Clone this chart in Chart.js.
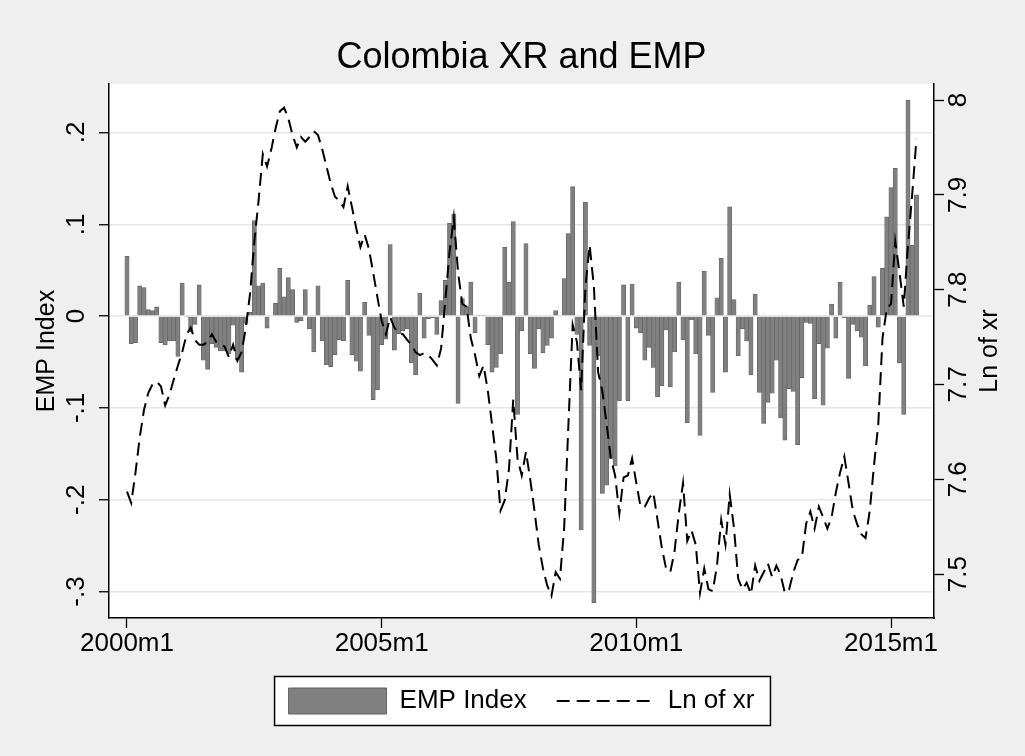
<!DOCTYPE html>
<html>
<head>
<meta charset="utf-8">
<title>Colombia XR and EMP</title>
<script src="https://cdn.jsdelivr.net/npm/chart.js@4.4.1/dist/chart.umd.min.js"></script>
<style>
  html, body { margin: 0; padding: 0; background: #efefef; }
  #wrap { width: 1025px; height: 756px; }
</style>
</head>
<body>
<div id="wrap"><canvas id="chart" width="1025" height="756"></canvas></div>
<script>
// monthly series, 2000m1 .. 2015m7
const startYear = 2000;
const empIndex = [
  0.065, -0.030, -0.029, 0.033, 0.031, 0.007, 0.006, 0.010, -0.029, -0.031, -0.027, -0.027,
  -0.044, 0.036, -0.001, -0.017, -0.009, 0.034, -0.048, -0.058, -0.030, -0.034, -0.038, -0.038,
  -0.041, -0.010, -0.048, -0.061, -0.008, 0.004, 0.104, 0.033, 0.036, -0.013, 0.000, 0.014,
  0.052, 0.021, 0.042, 0.029, -0.007, -0.005, 0.029, -0.014, -0.039, 0.033, -0.027, -0.053,
  -0.055, -0.042, -0.026, -0.027, 0.039, -0.042, -0.049, -0.060, 0.015, -0.021, -0.091, -0.080,
  -0.031, -0.025, 0.078, -0.037, -0.019, -0.016, -0.014, -0.051, -0.064, 0.025, -0.024, -0.003,
  -0.002, -0.020, 0.017, 0.039, 0.101, 0.111, -0.095, 0.019, 0.010, 0.037, -0.018, 0.001,
  0.001, -0.031, -0.061, -0.056, -0.041, 0.075, 0.037, 0.103, -0.107, -0.016, 0.079, -0.041,
  -0.057, -0.014, -0.040, -0.032, -0.024, 0.006, 0.000, 0.041, 0.090, 0.141, -0.020, -0.233,
  0.124, -0.032, -0.312, -0.043, -0.193, -0.184, -0.155, -0.163, -0.092, 0.034, -0.092, 0.035,
  -0.013, -0.018, -0.048, -0.034, -0.056, -0.088, -0.076, -0.015, -0.077, -0.039, 0.037, -0.026,
  -0.116, -0.004, -0.041, -0.130, 0.049, -0.021, -0.083, 0.020, 0.063, -0.061, 0.119, 0.018,
  -0.043, -0.014, -0.027, -0.064, 0.024, -0.083, -0.117, -0.094, -0.084, -0.048, -0.111, -0.135,
  -0.079, -0.082, -0.140, -0.067, -0.007, -0.008, -0.090, -0.030, -0.097, -0.035, 0.013, -0.024,
  0.037, -0.002, -0.068, -0.009, -0.016, -0.023, -0.054, 0.012, 0.043, -0.012, 0.052, 0.108,
  0.140, 0.161, -0.051, -0.107, 0.235, 0.077, 0.132
];
const lnXr = [
  7.587, 7.575, 7.607, 7.644, 7.673, 7.691, 7.700, 7.703, 7.698, 7.678, 7.689, 7.705,
  7.720, 7.734, 7.752, 7.760, 7.747, 7.742, 7.742, 7.745, 7.753, 7.745, 7.742, 7.740,
  7.729, 7.742, 7.725, 7.734, 7.760, 7.796, 7.851, 7.894, 7.943, 7.930, 7.948, 7.970,
  7.988, 7.992, 7.981, 7.963, 7.950, 7.961, 7.956, 7.961, 7.967, 7.963, 7.948, 7.930,
  7.912, 7.898, 7.894, 7.887, 7.909, 7.887, 7.865, 7.845, 7.858, 7.843, 7.818, 7.792,
  7.767, 7.753, 7.771, 7.760, 7.754, 7.753, 7.747, 7.742, 7.734, 7.731, 7.733, 7.731,
  7.726, 7.720, 7.738, 7.789, 7.840, 7.876, 7.818, 7.785, 7.782, 7.749, 7.731, 7.709,
  7.720, 7.694, 7.658, 7.622, 7.567, 7.578, 7.611, 7.684, 7.622, 7.604, 7.629, 7.600,
  7.567, 7.531, 7.506, 7.488, 7.477, 7.502, 7.495, 7.549, 7.658, 7.763, 7.745, 7.694,
  7.803, 7.847, 7.803, 7.713, 7.693, 7.658, 7.622, 7.604, 7.564, 7.602, 7.604, 7.622,
  7.596, 7.571, 7.571, 7.580, 7.586, 7.557, 7.528, 7.506, 7.502, 7.524, 7.564, 7.596,
  7.535, 7.546, 7.531, 7.480, 7.506, 7.484, 7.482, 7.509, 7.557, 7.531, 7.584, 7.549,
  7.495, 7.484, 7.491, 7.479, 7.509, 7.493, 7.502, 7.511, 7.497, 7.509, 7.499, 7.480,
  7.484, 7.502, 7.515, 7.517, 7.553, 7.566, 7.548, 7.571, 7.560, 7.548, 7.560, 7.586,
  7.607, 7.624, 7.596, 7.567, 7.553, 7.542, 7.538, 7.567, 7.615, 7.658, 7.749, 7.780,
  7.785, 7.851, 7.818, 7.782, 7.847, 7.901, 7.959
];
const xTickMonths = [0, 60, 120, 180];
const leftTicks = [0.2, 0.1, 0, -0.1, -0.2, -0.3];
const rightTicks = [8, 7.9, 7.8, 7.7, 7.6, 7.5];

const FONT = '"Liberation Sans", Arial, Helvetica, sans-serif';
const BAR_FILL = "#808080";
const BAR_EDGE = "#626262";
const DASH = [13, 7];
const rightTitle = "Ln of xr";

function monthLabel(i) {
  return startYear + Math.floor(i / 12) + "m" + ((i % 12) + 1);
}

// stata style: .2  -.1  0
function shortNum(v) {
  if (v === 0) return "0";
  return String(Math.round(v * 10) / 10).replace(/^(-?)0\./, "$1.");
}

const frame = {
  id: "frame",
  beforeDraw(chart) {
    const { ctx, chartArea: a, width, height } = chart;
    ctx.save();
    ctx.fillStyle = "#efefef";
    ctx.fillRect(0, 0, width, height);
    ctx.fillStyle = "#ffffff";
    ctx.fillRect(a.left, a.top, a.right - a.left, a.bottom - a.top);
    const boxes = chart.legend && chart.legend.legendHitBoxes;
    if (boxes && boxes.length) {
      const l = Math.min(...boxes.map((b) => b.left)) - 14;
      const r = Math.max(...boxes.map((b) => b.left + b.width)) + 16;
      const cy = boxes[0].top + boxes[0].height / 2;
      ctx.fillRect(l, cy - 24.5, r - l, 49);
      ctx.strokeStyle = "#000";
      ctx.lineWidth = 1.5;
      ctx.strokeRect(l, cy - 24.5, r - l, 49);
    }
    ctx.restore();
  },
  afterDraw(chart) {
    // right axis title reads bottom-to-top like the left one
    const { ctx, chartArea: a } = chart;
    ctx.save();
    ctx.translate(a.right + 56, (a.top + a.bottom) / 2);
    ctx.rotate(-Math.PI / 2);
    ctx.font = "25px " + FONT;
    ctx.fillStyle = "#000";
    ctx.textAlign = "center";
    ctx.textBaseline = "middle";
    ctx.fillText(rightTitle, 0, 0);
    ctx.restore();
  },
};

const tickFont = { family: FONT, size: 26 };

new Chart(document.getElementById("chart"), {
  type: "bar",
  data: {
    datasets: [
      {
        label: "EMP Index",
        data: empIndex.map((v, i) => ({ x: i, y: v })),
        backgroundColor: BAR_FILL,
        borderColor: BAR_EDGE,
        borderWidth: 0.7,
        barPercentage: 1,
        categoryPercentage: 1,
        yAxisID: "y",
        order: 1,
      },
      {
        type: "line",
        label: "Ln of xr",
        data: lnXr.map((v, i) => ({ x: i, y: v })),
        borderColor: "#000",
        borderWidth: 2,
        borderDash: DASH,
        pointRadius: 0,
        tension: 0,
        fill: false,
        yAxisID: "y2",
        order: 0,
      },
    ],
  },
  options: {
    responsive: false,
    animation: false,
    devicePixelRatio: 1,
    layout: { padding: { left: 18, right: 0, top: 0, bottom: 32 } },
    plugins: {
      tooltip: { enabled: false },
      title: {
        display: true,
        text: "Colombia XR and EMP",
        color: "#000",
        font: { family: FONT, size: 36, weight: "normal" },
        padding: { top: 36.4, bottom: 4.4 },
      },
      legend: {
        position: "bottom",
        labels: {
          usePointStyle: true,
          pointStyleWidth: 98,
          boxHeight: 26,
          padding: 30,
          color: "#000",
          font: { family: FONT, size: 26 },
          generateLabels: (chart) => {
            const ds = chart.data.datasets;
            return [
              { text: ds[0].label, fillStyle: BAR_FILL, strokeStyle: BAR_EDGE, lineWidth: 1, pointStyle: "rect", datasetIndex: 0, hidden: false },
              { text: ds[1].label, fillStyle: "rgba(0,0,0,0)", strokeStyle: "#000", lineWidth: 2, lineDash: DASH, pointStyle: "line", datasetIndex: 1, hidden: false },
            ];
          },
        },
      },
    },
    scales: {
      x: {
        type: "linear",
        min: -4.24,
        max: 190.13,
        offset: false,
        grid: { offset: false, drawOnChartArea: false, tickLength: 10, tickColor: "#000", tickWidth: 1.3 },
        border: { color: "#000", width: 1.5 },
        ticks: { font: tickFont, color: "#000", padding: 0, maxRotation: 0, autoSkip: false, callback: (v) => monthLabel(v) },
        afterBuildTicks: (s) => { s.ticks = xTickMonths.map((v) => ({ value: v })); },
        afterFit: (s) => { s.height = 40; },
      },
      y: {
        position: "left",
        min: -0.3288,
        max: 0.2528,
        grid: { color: "#e6e6e6", lineWidth: 1.5, tickColor: "#000", tickLength: 10, tickWidth: 1.3 },
        border: { color: "#000", width: 1.5 },
        ticks: { font: tickFont, color: "#000", minRotation: 90, maxRotation: 90, crossAlign: "center", padding: 7, autoSkip: false, callback: (v) => shortNum(v) },
        title: { display: true, text: "EMP Index", color: "#000", font: { family: FONT, size: 25 }, padding: { top: 14, bottom: 0 } },
        afterBuildTicks: (s) => { s.ticks = leftTicks.map((v) => ({ value: v })); },
        afterFit: (s) => { s.width = 91; },
      },
      y2: {
        position: "right",
        min: 7.4537,
        max: 8.0169,
        grid: { drawOnChartArea: false, tickColor: "#000", tickLength: 10, tickWidth: 1.3 },
        border: { color: "#000", width: 1.5 },
        ticks: { font: tickFont, color: "#000", minRotation: 90, maxRotation: 90, crossAlign: "center", padding: -3, autoSkip: false, callback: (v) => shortNum(v) },
        afterBuildTicks: (s) => { s.ticks = rightTicks.map((v) => ({ value: v })); },
        afterFit: (s) => { s.width = 91; },
      },
    },
  },
  plugins: [frame],
});
</script>
</body>
</html>
